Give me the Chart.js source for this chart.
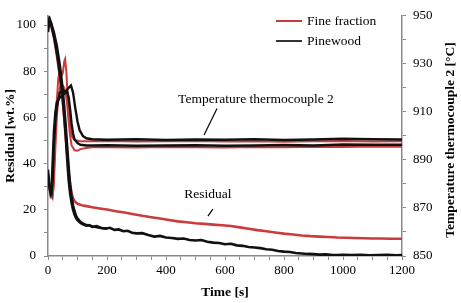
<!DOCTYPE html>
<html>
<head>
<meta charset="utf-8">
<script src="https://cdn.jsdelivr.net/npm/chart.js@4"></script>
<style>
  body { margin: 0; background: #fff; }
  canvas { display: block; }
</style>
</head>
<body>
<canvas id="chart" width="461" height="303"></canvas>
<script>
// Residual, Pinewood (two runs)
const tResBlack = [0, 5, 10, 15, 20, 25, 30, 35, 40, 45, 50, 55, 60, 65, 70, 75, 80, 85, 90, 95, 100,
  110, 120, 130, 140, 150,
  165, 180, 195, 210, 225, 240, 255, 270, 285, 300,
  320, 340, 360, 380, 400, 420, 440, 460, 480, 500, 520, 540, 560, 580, 600, 620, 640, 660, 680, 700,
  720, 740, 760, 780, 800, 820, 840, 860, 880, 900, 920, 940, 960, 980, 1000,
  1030, 1060, 1090, 1120, 1150, 1180, 1200];
const resBlack1 = [97, 102, 101, 98, 95, 92, 88, 84, 79, 74, 68, 61, 52, 42, 33, 27, 23, 20, 18, 16.5, 15.5,
  14.3, 13.6, 13.1, 13.4, 12.6,
  12.9, 12.1, 11.8, 12.2, 11.3, 11.5, 10.7, 10.9, 10.1, 9.8,
  9.9, 9.1, 8.4, 8.7, 8.0, 7.8, 7.4, 7.6, 6.9, 6.7, 6.9, 6.2, 5.8, 5.6, 5.1, 5.3, 4.6, 4.4, 3.9, 3.7,
  3.4, 2.9, 2.7, 2.2, 1.9, 1.7, 1.3, 1.1, 0.9, 0.8, 0.6, 0.7, 0.5, 0.4, 0.5,
  0.4, 0.5, 0.3, 0.4, 0.5, 0.3, 0.4];
const tResBlack2 = [0, 5, 10, 15, 20, 25, 30, 35, 40, 45, 50, 55, 60, 65, 70, 75, 80, 85, 90, 95, 100,
  110, 120, 130, 140, 150, 170, 200];
const resBlack2 = [99, 103, 101, 99, 97, 94, 91, 87, 83, 78, 72, 65, 57, 48, 39, 31, 26, 22, 19.5, 17.5, 16.3,
  14.8, 14, 13.4, 13.2, 12.8, 12.3, 11.9];

// Residual, Fine fraction
const tResRed = [0, 10, 20, 30, 40, 50, 60, 70, 80, 85, 90, 100, 115, 130, 150, 175, 200,
  230, 260, 290, 320, 350, 380, 410, 440, 470, 500, 530, 560, 590, 620, 650, 680, 710, 740, 770,
  800, 830, 860, 890, 920, 950, 980, 1010, 1040, 1070, 1100, 1130, 1160, 1200];
const resRed = [100, 100, 95, 87, 78, 67, 52, 36, 27, 25, 23.7, 22.6, 22.0, 21.6, 21.1, 20.6, 20.1,
  19.4, 18.8, 18.1, 17.4, 16.8, 16.2, 15.6, 15.0, 14.6, 14.2, 13.9, 13.6, 13.3, 13.0, 12.4, 11.8, 11.2, 10.7, 10.2,
  9.7, 9.3, 8.9, 8.6, 8.4, 8.2, 8.0, 7.9, 7.8, 7.7, 7.6, 7.6, 7.5, 7.5];

// Temperature thermocouple 2, Pinewood (two runs)
const tTempBlackA = [0, 4, 8, 12, 16, 20, 25, 30, 40, 50, 60, 70, 78, 85, 92, 100, 107, 118, 130, 150,
  200, 300, 400, 500, 600, 700, 800, 900, 1000, 1100, 1200];
const tempBlackA = [886, 881, 877, 876, 882, 896, 906, 912, 918, 919, 918.5, 920, 921, 918, 912, 906, 902.4, 900, 899, 898.6,
  898.4, 898.6, 898.3, 898.5, 898.4, 898.6, 898.3, 898.5, 898.8, 898.6, 898.5];
const tTempBlackB = [0, 4, 8, 12, 16, 20, 25, 30, 40, 50, 60, 65, 70, 75, 80, 85, 90, 100, 110, 130, 150,
  200, 300, 400, 500, 600, 700, 800, 900, 1000, 1100, 1200];
const tempBlackB = [884, 879, 876, 878, 890, 902, 910, 914, 916, 917, 918, 918.5, 916, 911, 905, 901, 898.5, 897, 896.3, 896, 896,
  896.1, 895.9, 896, 896.1, 895.9, 896, 896.2, 896, 896.4, 896.3, 896.3];

// Temperature thermocouple 2, Fine fraction (two runs)
const tTempRedA = [0, 5, 10, 15, 18, 22, 26, 30, 35, 40, 45, 50, 55, 58, 62, 66, 70, 75, 80, 90, 110, 150,
  200, 300, 400, 500, 600, 700, 800, 900, 1000, 1100, 1200];
const tempRedA = [883, 878, 875, 874, 878, 892, 905, 915, 924, 927, 925, 926, 931, 932, 927, 918, 910, 904, 900, 898.3, 897.8, 897.8,
  897.9, 897.7, 897.8, 897.9, 897.7, 897.8, 897.6, 897.8, 897.9, 897.7, 897.8];
const tTempRedB = [0, 5, 10, 15, 20, 25, 30, 35, 40, 45, 50, 55, 60, 65, 70, 75, 80, 90, 100, 110, 130, 150,
  200, 300, 400, 500, 600, 700, 800, 900, 1000, 1100, 1200];
const tempRedB = [884, 879, 876, 875, 880, 895, 908, 916, 920, 922, 921, 920, 918, 913, 906, 900, 896, 894, 893.8, 894.5, 895, 895.3,
  895.3, 895.2, 895.4, 895.3, 895.2, 895.4, 895.3, 895.5, 895.4, 895.6, 895.5];

// Axis ticks
const xTicks = [];
for (let v = 0; v <= 1200; v += 50) xTicks.push(v);
const resTicks = [];
for (let v = 0; v <= 100; v += 10) resTicks.push(v);
const tempTicks = [];
for (let v = 850; v <= 950; v += 10) tempTicks.push(v);

const legendItems = ["Fine fraction", "Pinewood"];

const RED = "#cc3b3b";
const BLACK = "#111111";
const AXIS = "#8a8a8a";
const FONT = "'Liberation Serif', 'Times New Roman', serif";

function pts(xs, ys) {
  return xs.map((x, i) => ({ x: x, y: ys[i] }));
}

function lineSet(label, xs, ys, color, width, axis) {
  return {
    label: label,
    data: pts(xs, ys),
    borderColor: color,
    backgroundColor: color,
    borderWidth: width,
    pointRadius: 0,
    tension: 0,
    fill: false,
    yAxisID: axis,
  };
}

// legend, right axis title (reads upward) and annotation labels
const overlay = {
  id: "overlay",
  afterDraw(chart) {
    const c = chart.ctx;
    const x = chart.scales.x;
    const yT = chart.scales.yT;
    const yR = chart.scales.yR;
    c.save();
    c.font = "13.5px " + FONT;
    c.fillStyle = "#000";
    c.textBaseline = "middle";

    // legend
    const colors = [RED, "#333"];
    legendItems.forEach((txt, i) => {
      const ly = 21 + i * 20;
      c.strokeStyle = colors[i];
      c.lineWidth = 2;
      c.beginPath();
      c.moveTo(276, ly);
      c.lineTo(302, ly);
      c.stroke();
      c.textAlign = "left";
      c.fillText(txt, 307, ly);
    });

    // "Temperature thermocouple 2"
    c.textAlign = "center";
    c.fillText("Temperature thermocouple 2", x.getPixelForValue(705), yT.getPixelForValue(915));
    c.strokeStyle = "#000";
    c.lineWidth = 1.2;
    c.beginPath();
    c.moveTo(x.getPixelForValue(573), yT.getPixelForValue(911.4));
    c.lineTo(x.getPixelForValue(529), yT.getPixelForValue(900.4));
    c.stroke();

    // "Residual"
    c.fillText("Residual", x.getPixelForValue(542), yR.getPixelForValue(26.6));
    c.beginPath();
    c.moveTo(x.getPixelForValue(559), yR.getPixelForValue(20.3));
    c.lineTo(x.getPixelForValue(542), yR.getPixelForValue(17.3));
    c.stroke();

    // right axis title
    c.translate(451, 140);
    c.rotate(-Math.PI / 2);
    c.font = "bold 13.5px " + FONT;
    c.fillText("Temperature thermocouple 2 [°C]", 0, 0);
    c.restore();
  },
};

const tickFont = { family: FONT, size: 13 };
const titleFont = { family: FONT, size: 13.5, weight: "bold" };

new Chart(document.getElementById("chart").getContext("2d"), {
  type: "line",
  data: {
    datasets: [
      lineSet("Pinewood residual 1", tResBlack, resBlack1, BLACK, 2.6, "yR"),
      lineSet("Pinewood residual 2", tResBlack2, resBlack2, BLACK, 2.4, "yR"),
      lineSet("Pinewood temperature A", tTempBlackA, tempBlackA, BLACK, 2.4, "yT"),
      lineSet("Pinewood temperature B", tTempBlackB, tempBlackB, BLACK, 2.4, "yT"),
      lineSet("Fine fraction residual", tResRed, resRed, RED, 2.6, "yR"),
      lineSet("Fine fraction temperature A", tTempRedA, tempRedA, RED, 2, "yT"),
      lineSet("Fine fraction temperature B", tTempRedB, tempRedB, RED, 2, "yT"),
    ],
  },
  options: {
    responsive: false,
    animation: false,
    devicePixelRatio: 1,
    layout: { padding: { top: 10, left: 0, right: 0, bottom: 0 } },
    plugins: { legend: { display: false }, tooltip: { enabled: false } },
    scales: {
      x: {
        type: "linear",
        min: 0,
        max: 1200,
        afterBuildTicks: (s) => { s.ticks = xTicks.map((v) => ({ value: v })); },
        afterFit: (s) => { s.height = 47; },
        border: { color: AXIS, width: 1.5 },
        grid: { drawOnChartArea: false, tickLength: 4, color: AXIS },
        ticks: {
          autoSkip: false,
          maxRotation: 0,
          padding: 3,
          color: "#000",
          font: tickFont,
          callback: (v) => (v % 200 === 0 ? String(v) : ""),
        },
        title: { display: true, text: "Time [s]", color: "#000", font: titleFont, padding: { top: 0, bottom: 2 } },
      },
      yR: {
        type: "linear",
        position: "left",
        min: 0,
        max: 104,
        afterBuildTicks: (s) => { s.ticks = resTicks.map((v) => ({ value: v })); },
        afterFit: (s) => { s.width = 48; },
        border: { color: AXIS, width: 1.5 },
        grid: { drawOnChartArea: false, tickLength: 4, color: AXIS },
        ticks: {
          padding: 8,
          color: "#000",
          font: tickFont,
          callback: (v) => (v % 20 === 0 ? String(v) : ""),
        },
        title: { display: true, text: "Residual [wt.%]", color: "#000", font: titleFont, padding: { top: 2, bottom: 0 } },
      },
      yT: {
        type: "linear",
        position: "right",
        min: 850,
        max: 950,
        afterBuildTicks: (s) => { s.ticks = tempTicks.map((v) => ({ value: v })); },
        afterFit: (s) => { s.width = 59; },
        border: { color: AXIS, width: 1.5 },
        grid: { drawOnChartArea: false, tickLength: 4, color: AXIS },
        ticks: {
          padding: 7,
          color: "#000",
          font: tickFont,
          callback: (v) => ((v - 850) % 20 === 0 ? String(v) : ""),
        },
        title: { display: false },
      },
    },
  },
  plugins: [overlay],
});
</script>
</body>
</html>
